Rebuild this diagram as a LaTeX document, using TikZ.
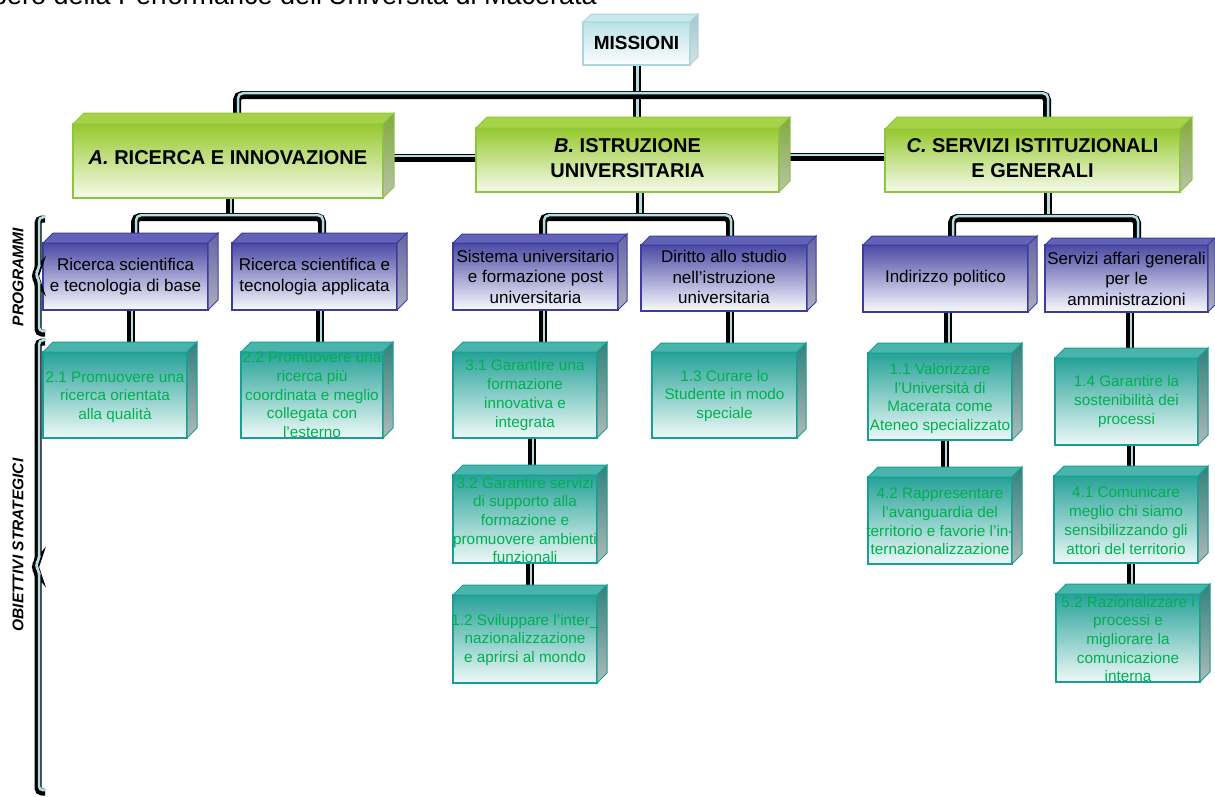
\documentclass[tikz,border=0pt]{standalone}
\usepackage{fontspec}
\setmainfont{Liberation Sans}
\usetikzlibrary{calc}
\pgfdeclarelayer{bg}
\pgfsetlayers{bg,main}
\definecolor{gtop}{RGB}{150,200,45}
\definecolor{gbot}{RGB}{246,251,236}
\definecolor{gborder}{RGB}{140,198,63}
\definecolor{gtopface}{RGB}{165,210,70}
\definecolor{gside1}{RGB}{130,170,60}
\definecolor{gside2}{RGB}{185,195,170}
\definecolor{ptop}{RGB}{74,74,164}
\definecolor{pbot}{RGB}{250,250,255}
\definecolor{pborder}{RGB}{60,60,160}
\definecolor{ptopface}{RGB}{98,98,182}
\definecolor{pside1}{RGB}{100,100,165}
\definecolor{pside2}{RGB}{175,175,190}
\definecolor{ttop}{RGB}{38,162,152}
\definecolor{tbot}{RGB}{238,249,248}
\definecolor{tborder}{RGB}{25,158,148}
\definecolor{ttopface}{RGB}{72,180,172}
\definecolor{tside1}{RGB}{50,130,125}
\definecolor{tside2}{RGB}{175,185,185}
\definecolor{ttextc}{RGB}{0,176,80}
\definecolor{mtop}{RGB}{188,226,232}
\definecolor{mbot}{RGB}{250,253,253}
\definecolor{mborder}{RGB}{170,214,220}
\definecolor{mtopface}{RGB}{200,232,236}
\definecolor{mside1}{RGB}{160,200,206}
\definecolor{mside2}{RGB}{215,225,228}
\definecolor{pipeblue}{RGB}{178,222,228}
\tikzset{
  pipe/.style={line width=8pt, draw=black, rounded corners=5pt,
    postaction={draw=pipeblue, line width=2.5pt, transform canvas={shift={(1pt,1.8pt)}}}},
  gface/.style={draw=gborder, line width=1.3pt, top color=gtop, bottom color=gbot, outer sep=0pt, inner sep=0pt},
  gtopf/.style={fill=gtopface, draw=gborder, line width=1pt},
  gsidef/.style={top color=gside1, bottom color=gside2, draw=gborder, line width=1pt},
  gtext/.style={font=\bfseries\fontsize{20}{25}\selectfont, align=center, text=black},
  pface/.style={draw=pborder, line width=1.3pt, top color=ptop, bottom color=pbot, outer sep=0pt, inner sep=0pt},
  ptopf/.style={fill=ptopface, draw=pborder, line width=1pt},
  psidef/.style={top color=pside1, bottom color=pside2, draw=pborder, line width=1pt},
  ptext/.style={font=\fontsize{17}{20.5}\selectfont, align=center, text=black},
  tface/.style={draw=tborder, line width=1.3pt, top color=ttop, bottom color=tbot, outer sep=0pt, inner sep=0pt},
  ttopf/.style={fill=ttopface, draw=tborder, line width=1pt},
  tsidef/.style={top color=tside1, bottom color=tside2, draw=tborder, line width=1pt},
  ttext/.style={font=\fontsize{15.3}{18.7}\selectfont, align=center, text=ttextc},
  mface/.style={draw=mborder, line width=1.3pt, top color=mtop, bottom color=mbot, outer sep=0pt, inner sep=0pt},
  mtopf/.style={fill=mtopface, draw=mborder, line width=1pt},
  msidef/.style={top color=mside1, bottom color=mside2, draw=mborder, line width=1pt},
  mtext/.style={font=\bfseries\fontsize{19}{22}\selectfont, align=center, text=black},
  sidelabel/.style={rotate=90, font=\bfseries\itshape\fontsize{15.5}{16}\selectfont, text=black},
}
% name, (x,y) top-left of front, width, height, style prefix, depth, text, text y offset
\newcommand{\cubebox}[8]{%
  \node[#5face, anchor=north west, minimum width=#3, minimum height=#4] (#1) at #2 {};
  \path[#5topf] (#1.north west) -- ++(#6,-#6) -- ($(#1.north east)+(#6,-#6)$) -- (#1.north east) -- cycle;
  \path[#5sidef] (#1.north east) -- ++(#6,-#6) -- ($(#1.south east)+(#6,-#6)$) -- (#1.south east) -- cycle;
  \node[#5text] (#1-t) at ($(#1.center)+(0,#8)$) {#7};
}
\newcommand{\vlink}[3]{%
  \coordinate (tmpv) at ([xshift=#2]#1.south);
  \draw[pipe] (tmpv) -- (tmpv |- #3.north);
}
\newcommand{\teelink}[7]{%
  \coordinate (tp) at ([xshift=#2]#1.south);
  \coordinate (t1) at ([xshift=#4]#3.north);
  \coordinate (t2) at ([xshift=#6]#5.north);
  \coordinate (tb) at (0,#7);
  \draw[pipe] (tp) -- (tp |- tb);
  \draw[pipe] (t1) -- (t1 |- tb) -- (t2 |- tb) -- (t2);
}
\begin{document}
\begin{tikzpicture}[x=1pt,y=-1pt]
\useasboundingbox (0,0) rectangle (1215,796);
\begin{scope}
\clip (0,0) rectangle (1215,796);
\node[anchor=base east, font=\fontsize{27}{30}\selectfont, inner sep=0pt] (title) at (597,4.5) {Albero della Performance dell’Università di Macerata};
\end{scope}

% top
\cubebox{M}{(583,22)}{107}{43}{m}{8}{MISSIONI}{-1}
\cubebox{A}{(73,124)}{310}{74}{g}{11}{\textit{A.} RICERCA E INNOVAZIONE}{-3}
\cubebox{B}{(476,128)}{303}{64}{g}{11}{\textit{B.} ISTRUZIONE\\UNIVERSITARIA}{-2}
\cubebox{C}{(885,129)}{295}{63}{g}{12}{\textit{C.} SERVIZI ISTITUZIONALI\\E GENERALI}{-2}

% programmi
\cubebox{P1}{(43,243)}{165}{67}{p}{10}{Ricerca scientifica\\e tecnologia di base}{0}
\cubebox{P2}{(232,243)}{165}{67}{p}{10}{Ricerca scientifica e\\tecnologia applicata}{0}
\cubebox{P3}{(453,243)}{165}{67}{p}{9}{Sistema universitario\\e formazione post\\universitaria}{0}
\cubebox{P4}{(641,245)}{166}{66}{p}{9}{Diritto allo studio\\nell’istruzione\\universitaria}{-1}
\cubebox{P5}{(863,245)}{165}{67}{p}{9}{Indirizzo politico}{0}
\cubebox{P6}{(1045,245)}{163}{67}{p}{7}{Servizi affari generali\\per le\\amministrazioni}{0}

% obiettivi
\cubebox{O1}{(43,352)}{144}{86}{t}{10}{2.1 Promuovere una\\ricerca orientata\\alla qualità}{2}
\cubebox{O2}{(241,352)}{142}{86}{t}{10}{2.2 Promuovere una\\ricerca più\\coordinata e meglio\\collegata con\\l’esterno}{0}
\cubebox{O3}{(453,352)}{144}{86}{t}{10}{3.1 Garantire una\\formazione\\innovativa e\\integrata}{0}
\cubebox{O4}{(652,352)}{145}{86}{t}{9}{1.3 Curare lo\\Studente in modo\\speciale}{1}
\cubebox{O5}{(453,475)}{144}{88}{t}{10}{3.2 Garantire servizi\\di supporto alla\\formazione e\\promuovere ambienti\\funzionali}{1}
\cubebox{O6}{(453,595)}{144}{88}{t}{10}{1.2 Sviluppare l’inter\_\\nazionalizzazione\\e aprirsi al mondo}{1}
\cubebox{O7}{(868,353)}{144}{87}{t}{10}{1.1 Valorizzare\\l’Università di\\Macerata come\\Ateneo specializzato}{2}
\cubebox{O8}{(1055,358)}{143}{87}{t}{10}{1.4 Garantire la\\sostenibilità dei\\processi}{0}
\cubebox{O9}{(868,477)}{144}{87}{t}{10}{4.2 Rappresentare\\l’avanguardia del\\territorio e favorie l’in-\\ternazionalizzazione}{1}
\cubebox{O10}{(1054,476)}{144}{87}{t}{10}{4.1 Comunicare\\meglio chi siamo\\sensibilizzando gli\\attori del territorio}{1}
\cubebox{O11}{(1056,594)}{144}{88}{t}{10}{5.2 Razionalizzare i\\processi e\\migliorare la\\comunicazione\\interna}{1}

% side labels
\node[sidelabel] (lprog) at (18,277) {PROGRAMMI};
\node[sidelabel] (lobj) at (18,545) {OBIETTIVI STRATEGICI};
\draw[pipe, line width=7pt, rounded corners=4pt] (45,219) -- (38,219) -- (38,271) -- (34,276) -- (38,281) -- (38,333) -- (45,333);
\draw[pipe, line width=7pt, rounded corners=4pt] (45,342) -- (38,342) -- (38,562) -- (34,567) -- (38,572) -- (38,792) -- (45,792);

\begin{pgfonlayer}{bg}
  % mission tree
  \coordinate (cA) at ([xshift=9]A.north);
  \coordinate (cC) at ([xshift=14.5]C.north);
  \coordinate (bar) at (0,95);
  \draw[pipe] (M.south) -- (M.south |- B.north);
  \draw[pipe] (cA) -- (cA |- bar) -- (cC |- bar) -- (cC);
  \draw[pipe] ([yshift=3]A.east) -- ([yshift=3]A.east -| B.west);
  \draw[pipe] ([yshift=3]B.east) -- ([yshift=3]B.east -| C.west);
  % programmi
  \teelink{A}{2}{P1}{9.5}{P2}{7.5}{217}
  \teelink{B}{12}{P3}{7.5}{P4}{6}{217}
  \teelink{C}{15}{P5}{6.5}{P6}{10.5}{218}
  % obiettivi
  \vlink{P1}{5.5}{O1}
  \vlink{P2}{5.5}{O2}
  \vlink{P3}{7.5}{O3}
  \vlink{P4}{6}{O4}
  \vlink{P5}{2.5}{O7}
  \vlink{P6}{3.5}{O8}
  \vlink{O3}{7}{O5}
  \vlink{O5}{5}{O6}
  \vlink{O7}{5}{O9}
  \vlink{O8}{4.5}{O10}
  \vlink{O10}{5}{O11}
\end{pgfonlayer}
\end{tikzpicture}
\end{document}
